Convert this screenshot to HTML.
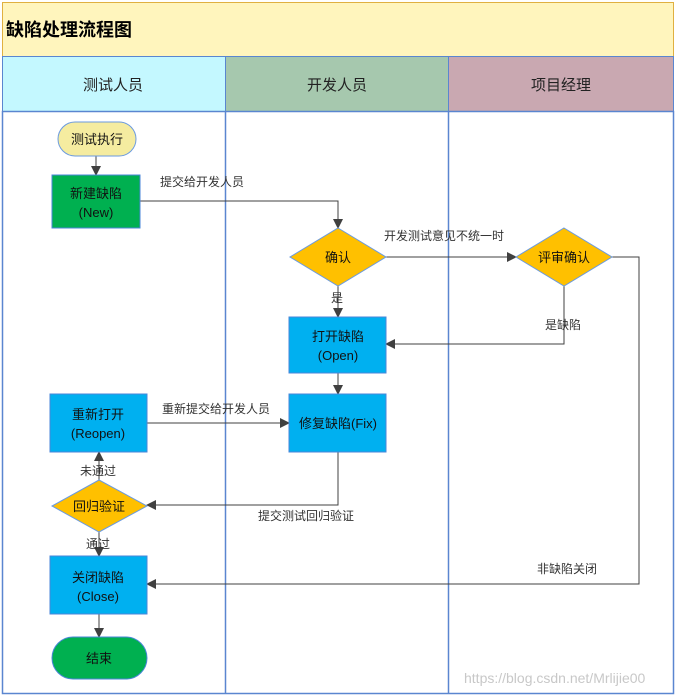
<!DOCTYPE html>
<html><head><meta charset="utf-8"><style>
body{margin:0;background:#fff;width:676px;height:696px;overflow:hidden}
svg{display:block;font-family:"Liberation Sans","Noto Sans CJK SC",sans-serif}
</style></head><body>
<svg width="676" height="696" viewBox="0 0 676 696" xmlns="http://www.w3.org/2000/svg">
<defs><marker id="a" markerWidth="10" markerHeight="10" refX="9" refY="5" orient="auto" markerUnits="userSpaceOnUse"><path d="M0,0 L10,5 L0,10 z" fill="#404040"/></marker></defs>
<rect x="2.5" y="2.5" width="671" height="54" fill="#fff5bd" stroke="#e0b040"/>
<text x="6" y="36" font-size="18" font-weight="bold" fill="#000">缺陷处理流程图</text>
<rect x="2.5" y="56.5" width="223" height="55" fill="#c4f8ff" stroke="#5a86d0"/>
<rect x="225.5" y="56.5" width="223" height="55" fill="#a6c8ae" stroke="#5a86d0"/>
<rect x="448.5" y="56.5" width="225" height="55" fill="#c9a8b1" stroke="#5a86d0"/>
<g font-size="15" fill="#222" text-anchor="middle">
<text x="113" y="90">测试人员</text><text x="337" y="90">开发人员</text><text x="561" y="90">项目经理</text></g>
<rect x="2.5" y="111.5" width="671" height="582" fill="none" stroke="#5a86d0" stroke-width="1.5"/>
<line x1="225.5" y1="111" x2="225.5" y2="694" stroke="#5a86d0" stroke-width="1.5"/>
<line x1="448.5" y1="111" x2="448.5" y2="694" stroke="#5a86d0" stroke-width="1.5"/>
<g stroke="#404040" stroke-width="1" fill="none">
<line x1="96" y1="156" x2="96" y2="175" marker-end="url(#a)"/>
<polyline points="140,201 338,201 338,228" marker-end="url(#a)"/>
<line x1="386" y1="257" x2="516" y2="257" marker-end="url(#a)"/>
<line x1="338" y1="286" x2="338" y2="317" marker-end="url(#a)"/>
<polyline points="564,286 564,344 386,344" marker-end="url(#a)"/>
<polyline points="612,257 639,257 639,584 147,584" marker-end="url(#a)"/>
<line x1="338" y1="373" x2="338" y2="394" marker-end="url(#a)"/>
<line x1="147" y1="423" x2="289" y2="423" marker-end="url(#a)"/>
<polyline points="338,452 338,505 147,505" marker-end="url(#a)"/>
<line x1="99" y1="480" x2="99" y2="452" marker-end="url(#a)"/>
<line x1="99" y1="532" x2="99" y2="556" marker-end="url(#a)"/>
<line x1="99" y1="614" x2="99" y2="637" marker-end="url(#a)"/>
</g>
<rect x="58" y="122" width="78" height="34" rx="17" fill="#f5eca0" stroke="#6a9ae0"/>
<rect x="52" y="175" width="88" height="53" fill="#00b050" stroke="#4a86d8"/>
<polygon points="338,228 386,257 338,286 290,257" fill="#ffc000" stroke="#6a9ae0"/>
<polygon points="564,228 612,257 564,286 516,257" fill="#ffc000" stroke="#6a9ae0"/>
<rect x="289" y="317" width="97" height="56" fill="#00b0f0" stroke="#4a86d8"/>
<rect x="289" y="394" width="97" height="58" fill="#00b0f0" stroke="#4a86d8"/>
<rect x="50" y="394" width="97" height="58" fill="#00b0f0" stroke="#4a86d8"/>
<polygon points="99,480 147,506 99,532 52,506" fill="#ffc000" stroke="#6a9ae0"/>
<rect x="50" y="556" width="97" height="58" fill="#00b0f0" stroke="#4a86d8"/>
<rect x="52" y="637" width="95" height="42" rx="21" fill="#00b050" stroke="#4a86d8"/>
<g font-size="13" fill="#111" text-anchor="middle">
<text x="97" y="144">测试执行</text>
<text x="96" y="198">新建缺陷</text><text x="96" y="217">(New)</text>
<text x="338" y="262">确认</text><text x="564" y="262">评审确认</text>
<text x="338" y="341">打开缺陷</text><text x="338" y="360">(Open)</text>
<text x="338" y="428">修复缺陷(Fix)</text>
<text x="98" y="419">重新打开</text><text x="98" y="438">(Reopen)</text>
<text x="99" y="511">回归验证</text>
<text x="98" y="582">关闭缺陷</text><text x="98" y="601">(Close)</text>
<text x="99" y="663">结束</text>
</g>
<g font-size="12" fill="#333">
<text x="160" y="186">提交给开发人员</text>
<text x="384" y="240">开发测试意见不统一时</text>
<text x="331" y="302">是</text>
<text x="545" y="329">是缺陷</text>
<text x="162" y="413">重新提交给开发人员</text>
<text x="80" y="475">未通过</text>
<text x="258" y="520">提交测试回归验证</text>
<text x="86" y="548">通过</text>
<text x="537" y="573">非缺陷关闭</text>
</g>
<text x="464" y="683" font-size="14" fill="#c8c8c8">https://blog.csdn.net/Mrlijie00</text>
</svg>
</body></html>
